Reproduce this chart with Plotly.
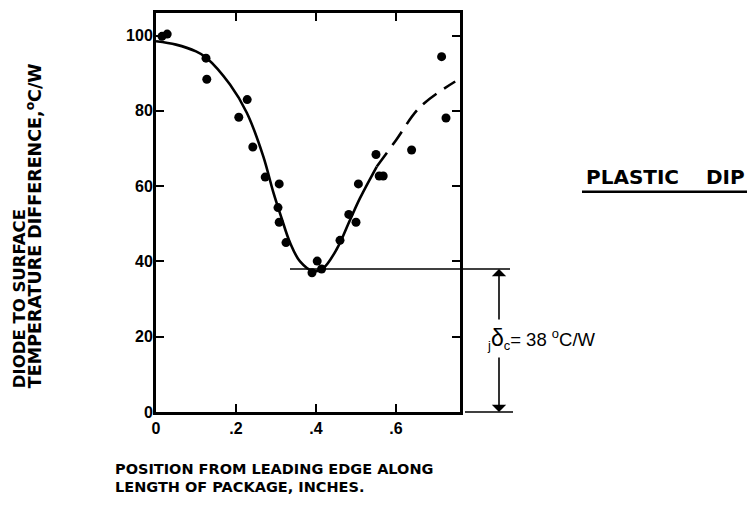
import plotly.graph_objects as go

# ---------------- data ----------------
point_x = [0.015, 0.028, 0.125, 0.127, 0.207, 0.228, 0.242, 0.273, 0.308, 0.305,
           0.308, 0.325, 0.390, 0.403, 0.414, 0.460, 0.482, 0.500, 0.506, 0.550,
           0.558, 0.568, 0.639, 0.714, 0.725]
point_y = [99.8, 100.4, 94.0, 88.4, 78.3, 83.0, 70.4, 62.4, 60.6, 54.3,
           50.4, 45.0, 37.0, 40.1, 38.0, 45.6, 52.5, 50.4, 60.6, 68.4,
           62.7, 62.7, 69.6, 94.4, 78.1]

fit_solid_x = [0.0, 0.05, 0.10, 0.125, 0.185, 0.227, 0.268, 0.293, 0.314, 0.335,
               0.360, 0.393, 0.418, 0.452, 0.485, 0.510, 0.552]
fit_solid_y = [98.5, 97.6, 95.8, 94.2, 87.0, 79.5, 68.0, 58.5, 51.5, 45.0,
               40.0, 37.4, 38.2, 43.3, 51.0, 56.8, 65.2]

fit_dash_x = [0.552, 0.600, 0.660, 0.748]
fit_dash_y = [65.2, 72.2, 81.0, 87.8]

x_tickvals = [0, 0.2, 0.4, 0.6]
x_ticktext = ["0", ".2", ".4", ".6"]
y_tickvals = [0, 20, 40, 60, 80, 100]
y_ticktext = ["0", "20", "40", "60", "80", "100"]

min_diff = 38          # jδc, °C/W
min_line_start_x = 0.335

X_MAX = 0.76
Y_MAX = 106

# ---------------- layout geometry ----------------
W, H = 752, 508
PLOT_L, PLOT_T, PLOT_R, PLOT_B = 156, 10, 460, 412   # reference pixels
PW = PLOT_R - PLOT_L
PH = PLOT_B - PLOT_T
ML = PLOT_L
MT = PLOT_T
MR = W - ML - PW
MB = H - MT - PH


def px(xp):
    return (xp - PLOT_L) / PW


def py(yp):
    return (PLOT_B - yp) / PH


TITLE_FONT = "DejaVu Sans"
TICK_FONT = "Liberation Sans"

fig = go.Figure()

fig.add_trace(go.Scatter(
    x=fit_solid_x, y=fit_solid_y, mode="lines",
    line=dict(color="black", width=2.6, shape="spline", smoothing=1.0),
    hoverinfo="skip", showlegend=False))

fig.add_trace(go.Scatter(
    x=fit_dash_x, y=fit_dash_y, mode="lines",
    line=dict(color="black", width=2.6, shape="spline", dash="17px,9px"),
    hoverinfo="skip", showlegend=False))

fig.add_trace(go.Scatter(
    x=point_x, y=point_y, mode="markers",
    marker=dict(color="black", size=9, line=dict(width=0)),
    showlegend=False))

axis_common = dict(
    showline=True, linewidth=3, linecolor="black", mirror="ticks",
    ticks="inside", ticklen=8, tickwidth=2, tickcolor="black",
    showgrid=False, zeroline=False,
    tickfont=dict(family=TICK_FONT, size=16, color="black", weight="bold"),
)

fig.update_xaxes(range=[0, X_MAX], tickvals=x_tickvals, ticktext=x_ticktext,
                 **axis_common)
fig.update_yaxes(range=[0, Y_MAX], tickvals=y_tickvals, ticktext=y_ticktext,
                 ticklabelstandoff=-3, **axis_common)

annotations = []

# y-axis title, two rotated lines
title_font = dict(family=TITLE_FONT, size=16.5, color="black", weight="bold")
title_font2 = dict(family=TITLE_FONT, size=17.5, color="black", weight="bold")
annotations.append(dict(
    text="DIODE TO SURFACE", textangle=-90, showarrow=False,
    xref="paper", yref="paper", x=px(19.5), y=py(390),
    xanchor="center", yanchor="bottom", font=title_font))
annotations.append(dict(
    text="TEMPERATURE DIFFERENCE,<sup>o</sup>C/W", textangle=-90, showarrow=False,
    xref="paper", yref="paper", x=px(33.5), y=py(390),
    xanchor="center", yanchor="bottom", font=title_font2))

# x-axis title, two lines
xt_font = dict(family=TITLE_FONT, size=14.5, color="black", weight="bold")
annotations.append(dict(
    text="POSITION FROM LEADING EDGE ALONG", showarrow=False,
    xref="paper", yref="paper", x=px(113), y=py(469),
    xanchor="left", yanchor="middle", font=xt_font))
annotations.append(dict(
    text="LENGTH OF PACKAGE, INCHES.", showarrow=False,
    xref="paper", yref="paper", x=px(113), y=py(488),
    xanchor="left", yanchor="middle", font=xt_font))

# PLASTIC DIP label
pd_font = dict(family=TITLE_FONT, size=20, color="black", weight="bold")
annotations.append(dict(
    text="PLASTIC", showarrow=False, xref="paper", yref="paper",
    x=px(584), y=py(175.5), xanchor="left", yanchor="middle", font=pd_font))
annotations.append(dict(
    text="DIP", showarrow=False, xref="paper", yref="paper",
    x=px(704), y=py(175.5), xanchor="left", yanchor="middle", font=pd_font))

# dimension arrows for jδc
arrow_x = px(499)
annotations.append(dict(
    text="", showarrow=True, xref="paper", yref="paper",
    x=arrow_x, y=min_diff / Y_MAX, ax=0, ay=52,
    arrowhead=1, arrowsize=1.5, arrowwidth=1.6, arrowcolor="black", standoff=0))
annotations.append(dict(
    text="", showarrow=True, xref="paper", yref="paper",
    x=arrow_x, y=0, ax=0, ay=-56,
    arrowhead=1, arrowsize=1.5, arrowwidth=1.6, arrowcolor="black", standoff=0))
annotations.append(dict(
    text=("<sub>j</sub><span style='font-size:23px'>δ</span><sub>c</sub>"
          "= %d <sup>o</sup>C/W" % min_diff),
    showarrow=False, xref="paper", yref="paper",
    x=px(485), y=py(338), xanchor="left", yanchor="middle",
    font=dict(family=TICK_FONT, size=18.5, color="black")))

shapes = [
    # minimum reference line
    dict(type="line", xref="paper", yref="y",
         x0=min_line_start_x / X_MAX, x1=px(510), y0=min_diff, y1=min_diff,
         line=dict(color="black", width=1.5)),
    # zero reference line
    dict(type="line", xref="paper", yref="paper",
         x0=px(465), x1=px(513), y0=0, y1=0,
         line=dict(color="black", width=1.5)),
    # underline for PLASTIC DIP
    dict(type="line", xref="paper", yref="paper",
         x0=px(582), x1=px(747), y0=py(190), y1=py(190),
         line=dict(color="black", width=2.5)),
]

fig.update_layout(
    width=W, height=H,
    margin=dict(l=ML, r=MR, t=MT, b=MB, pad=0),
    paper_bgcolor="white", plot_bgcolor="white",
    showlegend=False,
    annotations=annotations, shapes=shapes,
)

fig.write_html(
    "out.html",
    config={"displayModeBar": False},
    post_script="document.body.style.margin='0';document.body.style.overflow='hidden';",
)
